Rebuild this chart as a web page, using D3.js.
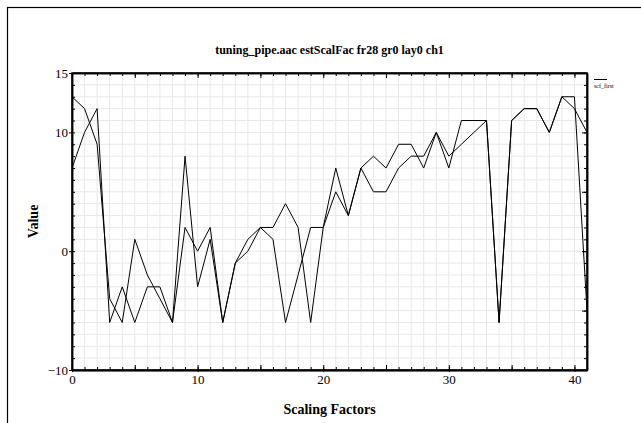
<!DOCTYPE html>
<html lang="en">
<head>
<meta charset="UTF-8">
<script src="https://cdn.jsdelivr.net/npm/d3@7"></script>
<title>estScalFac</title>
<style>
  body { margin: 0; background: #fff; }
  text { font-family: "Liberation Serif", "DejaVu Serif", serif; }
  .grid line { stroke: #e8e8e8; stroke-width: 1; }
</style>
</head>
<body>
<div id="chart"></div>
<script>
// scale factor index on x
var factors = d3.range(0, 42);
// the two traced series (second one has no legend label)
var scfFirst = [13, 12, 9, -4, -6, 1, -2, -4, -6, 8, -3, 1, -6, -1, 1, 2, 2, 4, 2, -6, 2,
                7, 3, 7, 8, 7, 9, 9, 7, 10, 8, 9, 10, 11, -6, 11, 12, 12, 10, 13, 13, -5];
var scfSecond = [7, 10, 12, -6, -3, -6, -3, -3, -6, 2, 0, 2, -6, -1, 0, 2, 1, -6, -2, 2, 2,
                 5, 3, 7, 5, 5, 7, 8, 8, 10, 7, 11, 11, 11, -6, 11, 12, 12, 10, 13, 12, 10];
var xTickLabels = [0, 10, 20, 30, 40];
var yTickLabels = [15, 10, 0, -10];

var W = 641, H = 423;
var x0 = 72, x1 = 587, yTop = 73, yBot = 370;

var svg = d3.select("#chart").append("svg")
    .attr("width", W).attr("height", H);

// outer frame (runs off the page on the right and bottom)
svg.append("rect")
    .attr("x", 7.5).attr("y", 7.5)
    .attr("width", 700).attr("height", 500)
    .attr("fill", "none").attr("stroke", "#000").attr("stroke-width", 1.2);

var x = d3.scaleLinear().domain([0, 41]).range([x0, x1]);
var y = d3.scaleLinear().domain([-10, 15]).range([yBot, yTop]);

// grid every unit
var grid = svg.append("g").attr("class", "grid");
grid.selectAll("line.v").data(d3.range(1, 41)).join("line")
    .attr("x1", d => x(d)).attr("x2", d => x(d))
    .attr("y1", yTop).attr("y2", yBot);
grid.selectAll("line.h").data(d3.range(-9, 15)).join("line")
    .attr("y1", d => y(d)).attr("y2", d => y(d))
    .attr("x1", x0).attr("x2", x1);

// axes: minor ticks inward every 1, major every 5
function inTicks(axis, len) { return axis.tickSizeInner(len).tickSizeOuter(0).tickFormat(""); }

svg.append("g").attr("transform", "translate(0," + yBot + ")")
    .call(inTicks(d3.axisTop(x).tickValues(d3.range(0, 42)), 3));
svg.append("g").attr("transform", "translate(0," + yBot + ")")
    .call(inTicks(d3.axisTop(x).tickValues(d3.range(0, 42, 5)), 5));
svg.append("g").attr("transform", "translate(0," + yTop + ")")
    .call(inTicks(d3.axisBottom(x).tickValues(d3.range(0, 42)), 3));
svg.append("g").attr("transform", "translate(0," + yTop + ")")
    .call(inTicks(d3.axisBottom(x).tickValues(d3.range(0, 42, 5)), 5));
svg.append("g").attr("transform", "translate(" + x0 + ",0)")
    .call(inTicks(d3.axisRight(y).tickValues(d3.range(-10, 16)), 3));
svg.append("g").attr("transform", "translate(" + x1 + ",0)")
    .call(inTicks(d3.axisLeft(y).tickValues(d3.range(-10, 16)), 3));
svg.append("g").attr("transform", "translate(" + x1 + ",0)")
    .call(inTicks(d3.axisLeft(y).tickValues(d3.range(-10, 16, 5)), 5));

// labelled axes
var xAxis = svg.append("g").attr("transform", "translate(0," + yBot + ")")
    .call(d3.axisBottom(x).tickValues(xTickLabels).tickSizeInner(2).tickSizeOuter(0).tickPadding(3));
var yAxis = svg.append("g").attr("transform", "translate(" + x0 + ",0)")
    .call(d3.axisLeft(y).tickValues(yTickLabels).tickSizeInner(3).tickSizeOuter(0).tickPadding(1)
        .tickFormat(d => d < 0 ? "\u2212" + Math.abs(d) : d));
[xAxis, yAxis].forEach(function (g) {
    g.selectAll("text").attr("font-size", 13).attr("fill", "#000")
        .attr("font-family", "'Liberation Serif', serif");
});
svg.selectAll(".domain").attr("stroke", "#000").attr("stroke-width", 1.5);

// plot box
svg.append("rect")
    .attr("x", x0).attr("y", yTop).attr("width", x1 - x0).attr("height", yBot - yTop)
    .attr("fill", "none").attr("stroke", "#000").attr("stroke-width", 1.5);

var line = d3.line().x((d, i) => x(factors[i])).y(d => y(d));
[scfSecond, scfFirst].forEach(function (s) {
    svg.append("path").datum(s)
        .attr("d", line)
        .attr("fill", "none").attr("stroke", "#000").attr("stroke-width", 1);
});

// titles
svg.append("text").attr("x", (x0 + x1) / 2).attr("y", 54)
    .attr("text-anchor", "middle").attr("font-weight", "bold").attr("font-size", 12)
    .text("tuning_pipe.aac estScalFac fr28 gr0 lay0 ch1");
svg.append("text").attr("x", (x0 + x1) / 2).attr("y", 414)
    .attr("text-anchor", "middle").attr("font-weight", "bold").attr("font-size", 14)
    .text("Scaling Factors");
svg.append("text")
    .attr("transform", "translate(38," + (yTop + yBot) / 2 + ") rotate(-90)")
    .attr("text-anchor", "middle").attr("font-weight", "bold").attr("font-size", 14)
    .text("Value");

// legend
svg.append("line").attr("x1", 594).attr("x2", 607).attr("y1", 79.5).attr("y2", 79.5)
    .attr("stroke", "#000").attr("stroke-width", 1);
svg.append("text").attr("x", 594).attr("y", 88).attr("font-size", 6)
    .text("scf_first");
</script>
</body>
</html>
